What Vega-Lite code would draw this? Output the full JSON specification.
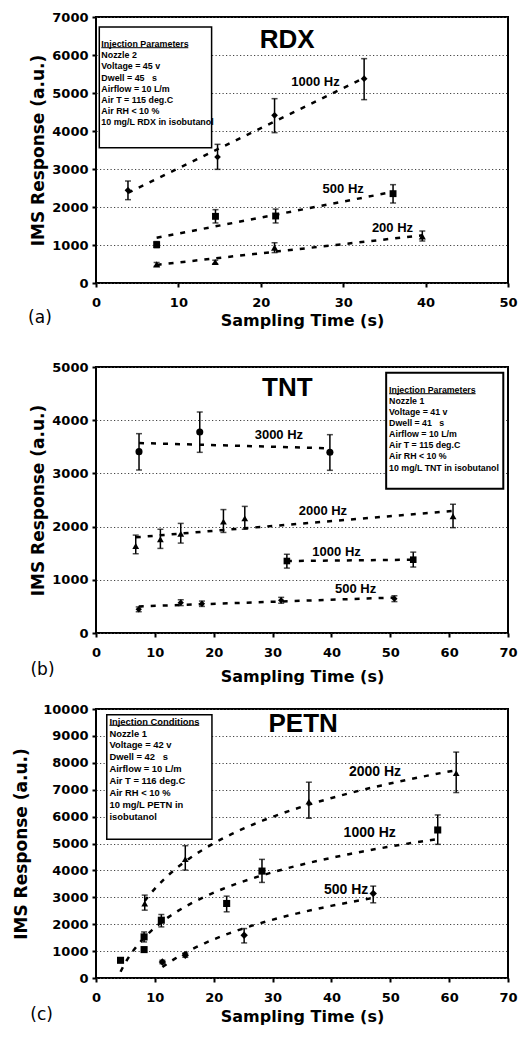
{
  "$schema": "https://vega.github.io/schema/vega-lite/v6.json",
  "padding": {"left": 11, "top": 10, "right": 0, "bottom": 0},
  "spacing": 17,
  "background": "white",
  "datasets": {
    "pts": [
      {"panel":"RDX","series":"1000 Hz","t":3.88,"v":2439,"lo":2193,"hi":2684},
      {"panel":"RDX","series":"1000 Hz","t":14.75,"v":3316,"lo":2991,"hi":3649},
      {"panel":"RDX","series":"1000 Hz","t":21.67,"v":4412,"lo":3956,"hi":4851},
      {"panel":"RDX","series":"1000 Hz","t":32.54,"v":5377,"lo":4825,"hi":5904},
      {"panel":"RDX","series":"500 Hz","t":7.36,"v":1009,"lo":930,"hi":1090},
      {"panel":"RDX","series":"500 Hz","t":14.5,"v":1754,"lo":1580,"hi":1930},
      {"panel":"RDX","series":"500 Hz","t":21.8,"v":1763,"lo":1580,"hi":1945},
      {"panel":"RDX","series":"500 Hz","t":36.05,"v":2351,"lo":2105,"hi":2588},
      {"panel":"RDX","series":"200 Hz","t":7.36,"v":491,"lo":440,"hi":540},
      {"panel":"RDX","series":"200 Hz","t":14.47,"v":553,"lo":510,"hi":600},
      {"panel":"RDX","series":"200 Hz","t":21.67,"v":930,"lo":800,"hi":1060},
      {"panel":"RDX","series":"200 Hz","t":39.6,"v":1228,"lo":1105,"hi":1368},
      {"panel":"TNT","series":"3000 Hz","t":7.31,"v":3409,"lo":3064,"hi":3747},
      {"panel":"TNT","series":"3000 Hz","t":17.63,"v":3778,"lo":3396,"hi":4154},
      {"panel":"TNT","series":"3000 Hz","t":39.74,"v":3396,"lo":3058,"hi":3728},
      {"panel":"TNT","series":"2000 Hz","t":6.75,"v":1635,"lo":1490,"hi":1840},
      {"panel":"TNT","series":"2000 Hz","t":10.94,"v":1761,"lo":1590,"hi":1950},
      {"panel":"TNT","series":"2000 Hz","t":14.4,"v":1867,"lo":1690,"hi":2060},
      {"panel":"TNT","series":"2000 Hz","t":21.65,"v":2093,"lo":1890,"hi":2320},
      {"panel":"TNT","series":"2000 Hz","t":25.28,"v":2155,"lo":1950,"hi":2380},
      {"panel":"TNT","series":"2000 Hz","t":60.66,"v":2193,"lo":1980,"hi":2420},
      {"panel":"TNT","series":"1000 Hz","t":32.43,"v":1353,"lo":1220,"hi":1480},
      {"panel":"TNT","series":"1000 Hz","t":53.9,"v":1378,"lo":1240,"hi":1520},
      {"panel":"TNT","series":"500 Hz","t":7.26,"v":445,"lo":400,"hi":490},
      {"panel":"TNT","series":"500 Hz","t":14.4,"v":570,"lo":515,"hi":625},
      {"panel":"TNT","series":"500 Hz","t":18.0,"v":551,"lo":500,"hi":600},
      {"panel":"TNT","series":"500 Hz","t":31.46,"v":614,"lo":560,"hi":670},
      {"panel":"TNT","series":"500 Hz","t":50.7,"v":645,"lo":590,"hi":700},
      {"panel":"PETN","series":"2000 Hz","t":8.28,"v":2770,"lo":2522,"hi":3081},
      {"panel":"PETN","series":"2000 Hz","t":15.17,"v":4422,"lo":4012,"hi":4919},
      {"panel":"PETN","series":"2000 Hz","t":36.17,"v":6559,"lo":5938,"hi":7279},
      {"panel":"PETN","series":"2000 Hz","t":61.2,"v":7615,"lo":6894,"hi":8398},
      {"panel":"PETN","series":"1000 Hz","t":4.17,"v":658,"lo":590,"hi":730},
      {"panel":"PETN","series":"1000 Hz","t":8.17,"v":1056,"lo":990,"hi":1120},
      {"panel":"PETN","series":"1000 Hz","t":8.17,"v":1528,"lo":1340,"hi":1712},
      {"panel":"PETN","series":"1000 Hz","t":11.1,"v":2149,"lo":1900,"hi":2360},
      {"panel":"PETN","series":"1000 Hz","t":22.2,"v":2770,"lo":2460,"hi":3043},
      {"panel":"PETN","series":"1000 Hz","t":28.2,"v":3975,"lo":3553,"hi":4410},
      {"panel":"PETN","series":"1000 Hz","t":58.06,"v":5503,"lo":4969,"hi":6062},
      {"panel":"PETN","series":"500 Hz","t":11.28,"v":596,"lo":530,"hi":660},
      {"panel":"PETN","series":"500 Hz","t":15.17,"v":845,"lo":770,"hi":920},
      {"panel":"PETN","series":"500 Hz","t":25.17,"v":1590,"lo":1304,"hi":1838},
      {"panel":"PETN","series":"500 Hz","t":47.1,"v":3143,"lo":2795,"hi":3416}
    ],
    "labels": [
      {"panel":"RDX","kind":"name","t":23.2,"v":6404,"text":"RDX"},
      {"panel":"RDX","kind":"freq","t":26.64,"v":5289,"text":"1000 Hz"},
      {"panel":"RDX","kind":"freq","t":30.0,"v":2482,"text":"500 Hz"},
      {"panel":"RDX","kind":"freq","t":35.98,"v":1447,"text":"200 Hz"},
      {"panel":"RDX","kind":"tag","t":-6.8,"v":-921,"text":"(a)"},
      {"panel":"TNT","kind":"name","t":32.5,"v":4599,"text":"TNT"},
      {"panel":"TNT","kind":"freq","t":31.07,"v":3716,"text":"3000 Hz"},
      {"panel":"TNT","kind":"freq","t":38.55,"v":2287,"text":"2000 Hz"},
      {"panel":"TNT","kind":"freq","t":40.87,"v":1529,"text":"1000 Hz"},
      {"panel":"TNT","kind":"freq","t":44.1,"v":833,"text":"500 Hz"},
      {"panel":"TNT","kind":"tag","t":-9.09,"v":-695,"text":"(b)"},
      {"panel":"PETN","kind":"name","t":35.2,"v":9453,"text":"PETN"},
      {"panel":"PETN","kind":"freq","t":47.4,"v":7652,"text":"2000 Hz"},
      {"panel":"PETN","kind":"freq","t":46.5,"v":5379,"text":"1000 Hz"},
      {"panel":"PETN","kind":"freq","t":42.5,"v":3267,"text":"500 Hz"},
      {"panel":"PETN","kind":"tag","t":-9.25,"v":-1375,"text":"(c)"}
    ],
    "boxes": [
      {"panel":"RDX","t":0.4,"t2":14.03,"v":3561,"v2":6737},
      {"panel":"TNT","t":49.3,"t2":69.2,"v":2713,"v2":4893},
      {"panel":"PETN","t":1.83,"t2":19.7,"v":5155,"v2":9789}
    ],
    "heads": [
      {"panel":"RDX","t":0.65,"t2":11.2,"v":6192},
      {"panel":"TNT","t":49.8,"t2":64.5,"v":4498},
      {"panel":"PETN","t":2.28,"t2":17.54,"v":9394}
    ],
    "infos": [
      {"panel":"RDX","t":0.65,"v":6389,"text":"Injection Parameters\nNozzle 2\nVoltage = 45 v\nDwell = 45\u00a0\u00a0\u00a0s\nAirflow = 10 L/m\nAir T = 115 deg.C\nAir RH < 10 %\n10 mg/L RDX in isobutanol"},
      {"panel":"TNT","t":49.8,"v":4645,"text":"Injection Parameters\nNozzle 1\nVoltage = 41 v\nDwell = 41\u00a0\u00a0\u00a0s\nAirflow = 10 L/m\nAir T = 115 deg.C\nAir RH < 10 %\n10 mg/L TNT in isobutanol"},
      {"panel":"PETN","t":2.28,"v":9677,"text":"Injection Conditions\nNozzle 1\nVoltage = 42 v\nDwell = 42\u00a0\u00a0\u00a0s\nAirflow = 10 L/m\nAir T = 116 deg.C\nAir RH < 10 %\n10 mg/L PETN in\nisobutanol"}
    ]
  },
  "resolve": {"scale": {"x": "independent", "y": "independent", "shape": "independent", "size": "independent"}},
  "vconcat": [
    {
      "width": 412, "height": 266,
      "encoding": {
        "x": {"field": "t", "type": "quantitative", "scale": {"domain": [0, 50], "nice": false}, "axis": {"values": [0,10,20,30,40,50], "format": "d", "grid": false, "title": ["Sampling Time (s)", " "], "titleLineHeight": 14, "titlePadding": 3}},
        "y": {"field": "v", "type": "quantitative", "scale": {"domain": [0, 7000], "nice": false}, "axis": {"values": [0,1000,2000,3000,4000,5000,6000,7000], "format": "d", "grid": true, "gridColor": "#444444", "gridWidth": 1.2, "gridDash": [1.2, 2.3], "title": "IMS Response (a.u.)", "titlePadding": 4}}
      },
      "layer": [
        {"data": {"name": "boxes"}, "transform": [{"filter": "datum.panel === 'RDX'"}], "mark": {"type": "rect", "fill": "white", "stroke": "black", "strokeWidth": 1.5}, "encoding": {"x2": {"field": "t2"}, "y2": {"field": "v2"}}},
        {"data": {"name": "heads"}, "transform": [{"filter": "datum.panel === 'RDX'"}], "mark": {"type": "rule", "stroke": "black", "strokeWidth": 1}, "encoding": {"x2": {"field": "t2"}}},
        {"data": {"name": "infos"}, "transform": [{"filter": "datum.panel === 'RDX'"}], "mark": {"type": "text", "align": "left", "baseline": "top", "lineBreak": "\n", "font": "Liberation Sans", "fontWeight": "bold", "fontSize": 8.9, "lineHeight": 11.1, "color": "black"}, "encoding": {"text": {"field": "text"}}},
        {"data": {"name": "pts"}, "transform": [{"filter": "datum.panel === 'RDX'"}, {"regression": "v", "on": "t", "groupby": ["series"], "method": "linear"}], "mark": {"type": "line", "color": "black", "strokeWidth": 2.5, "strokeDash": [5, 7]}, "encoding": {"detail": {"field": "series"}}},
        {"data": {"name": "pts"}, "transform": [{"filter": "datum.panel === 'RDX'"}], "mark": {"type": "errorbar", "color": "black", "ticks": {"size": 6, "thickness": 1.5, "color": "black"}, "rule": {"strokeWidth": 1.5}},
         "encoding": {"y": {"field": "lo", "type": "quantitative", "scale": {"domain": [0, 7000], "nice": false}, "axis": {"values": [0,1000,2000,3000,4000,5000,6000,7000], "format": "d", "grid": true, "gridColor": "#444444", "gridWidth": 1.2, "gridDash": [1.2, 2.3], "title": "IMS Response (a.u.)", "titlePadding": 4}}, "y2": {"field": "hi"}}},
        {"data": {"name": "pts"}, "transform": [{"filter": "datum.panel === 'RDX'"}], "mark": {"type": "point", "filled": true, "color": "black", "opacity": 1},
         "encoding": {"shape": {"field": "series", "type": "nominal", "scale": {"domain": ["1000 Hz","500 Hz","200 Hz"], "range": ["diamond","square","triangle-up"]}, "legend": null},
                      "size": {"field": "series", "type": "nominal", "scale": {"domain": ["1000 Hz","500 Hz","200 Hz"], "range": [45, 50, 40]}, "legend": null}}},
        {"data": {"name": "labels"}, "transform": [{"filter": "datum.panel === 'RDX' && datum.kind === 'freq'"}], "mark": {"type": "text", "font": "Liberation Sans", "fontWeight": "bold", "fontSize": 13, "color": "black"}, "encoding": {"text": {"field": "text"}}},
        {"data": {"name": "labels"}, "transform": [{"filter": "datum.panel === 'RDX' && datum.kind === 'name'"}], "mark": {"type": "text", "font": "Liberation Sans", "fontWeight": "bold", "fontSize": 26, "color": "black"}, "encoding": {"text": {"field": "text"}}},
        {"data": {"name": "labels"}, "transform": [{"filter": "datum.panel === 'RDX' && datum.kind === 'tag'"}], "mark": {"type": "text", "font": "DejaVu Sans", "fontSize": 17, "color": "black"}, "encoding": {"text": {"field": "text"}}}
      ]
    },
    {
      "width": 412, "height": 266,
      "encoding": {
        "x": {"field": "t", "type": "quantitative", "scale": {"domain": [0, 70], "nice": false}, "axis": {"values": [0,10,20,30,40,50,60,70], "format": "d", "grid": false, "title": "Sampling Time (s)", "titlePadding": 9}},
        "y": {"field": "v", "type": "quantitative", "scale": {"domain": [0, 5000], "nice": false}, "axis": {"values": [0,1000,2000,3000,4000,5000], "format": "d", "grid": true, "gridColor": "#444444", "gridWidth": 1.2, "gridDash": [1.2, 2.3], "title": "IMS Response (a.u.)", "titlePadding": 4}}
      },
      "layer": [
        {"data": {"name": "boxes"}, "transform": [{"filter": "datum.panel === 'TNT'"}], "mark": {"type": "rect", "fill": "white", "stroke": "black", "strokeWidth": 2}, "encoding": {"x2": {"field": "t2"}, "y2": {"field": "v2"}}},
        {"data": {"name": "heads"}, "transform": [{"filter": "datum.panel === 'TNT'"}], "mark": {"type": "rule", "stroke": "black", "strokeWidth": 1}, "encoding": {"x2": {"field": "t2"}}},
        {"data": {"name": "infos"}, "transform": [{"filter": "datum.panel === 'TNT'"}], "mark": {"type": "text", "align": "left", "baseline": "top", "lineBreak": "\n", "font": "Liberation Sans", "fontWeight": "bold", "fontSize": 8.8, "lineHeight": 11.1, "color": "black"}, "encoding": {"text": {"field": "text"}}},
        {"data": {"name": "pts"}, "transform": [{"filter": "datum.panel === 'TNT'"}, {"regression": "v", "on": "t", "groupby": ["series"], "method": "linear"}], "mark": {"type": "line", "color": "black", "strokeWidth": 2.5, "strokeDash": [5, 7]}, "encoding": {"detail": {"field": "series"}}},
        {"data": {"name": "pts"}, "transform": [{"filter": "datum.panel === 'TNT'"}], "mark": {"type": "errorbar", "color": "black", "ticks": {"size": 6, "thickness": 1.5, "color": "black"}, "rule": {"strokeWidth": 1.5}},
         "encoding": {"y": {"field": "lo", "type": "quantitative", "scale": {"domain": [0, 5000], "nice": false}, "axis": {"values": [0,1000,2000,3000,4000,5000], "format": "d", "grid": true, "gridColor": "#444444", "gridWidth": 1.2, "gridDash": [1.2, 2.3], "title": "IMS Response (a.u.)", "titlePadding": 4}}, "y2": {"field": "hi"}}},
        {"data": {"name": "pts"}, "transform": [{"filter": "datum.panel === 'TNT'"}], "mark": {"type": "point", "filled": true, "color": "black", "opacity": 1},
         "encoding": {"shape": {"field": "series", "type": "nominal", "scale": {"domain": ["3000 Hz","2000 Hz","1000 Hz","500 Hz"], "range": ["circle","triangle-up","square","diamond"]}, "legend": null},
                      "size": {"field": "series", "type": "nominal", "scale": {"domain": ["3000 Hz","2000 Hz","1000 Hz","500 Hz"], "range": [50, 40, 50, 30]}, "legend": null}}},
        {"data": {"name": "labels"}, "transform": [{"filter": "datum.panel === 'TNT' && datum.kind === 'freq'"}], "mark": {"type": "text", "font": "Liberation Sans", "fontWeight": "bold", "fontSize": 13, "color": "black"}, "encoding": {"text": {"field": "text"}}},
        {"data": {"name": "labels"}, "transform": [{"filter": "datum.panel === 'TNT' && datum.kind === 'name'"}], "mark": {"type": "text", "font": "Liberation Sans", "fontWeight": "bold", "fontSize": 26, "color": "black"}, "encoding": {"text": {"field": "text"}}},
        {"data": {"name": "labels"}, "transform": [{"filter": "datum.panel === 'TNT' && datum.kind === 'tag'"}], "mark": {"type": "text", "font": "DejaVu Sans", "fontSize": 17, "color": "black"}, "encoding": {"text": {"field": "text"}}}
      ]
    },
    {
      "width": 412, "height": 269,
      "encoding": {
        "x": {"field": "t", "type": "quantitative", "scale": {"domain": [0, 70], "nice": false}, "axis": {"values": [0,10,20,30,40,50,60,70], "format": "d", "grid": false, "title": "Sampling Time (s)", "titlePadding": 4}},
        "y": {"field": "v", "type": "quantitative", "scale": {"domain": [0, 10000], "nice": false}, "axis": {"values": [0,1000,2000,3000,4000,5000,6000,7000,8000,9000,10000], "format": "d", "grid": true, "gridColor": "#444444", "gridWidth": 1.2, "gridDash": [1.2, 2.3], "title": "IMS Response (a.u.)", "titlePadding": 12}}
      },
      "layer": [
        {"data": {"name": "boxes"}, "transform": [{"filter": "datum.panel === 'PETN'"}], "mark": {"type": "rect", "fill": "white", "stroke": "black", "strokeWidth": 1.5}, "encoding": {"x2": {"field": "t2"}, "y2": {"field": "v2"}}},
        {"data": {"name": "heads"}, "transform": [{"filter": "datum.panel === 'PETN'"}], "mark": {"type": "rule", "stroke": "black", "strokeWidth": 1}, "encoding": {"x2": {"field": "t2"}}},
        {"data": {"name": "infos"}, "transform": [{"filter": "datum.panel === 'PETN'"}], "mark": {"type": "text", "align": "left", "baseline": "top", "lineBreak": "\n", "font": "Liberation Sans", "fontWeight": "bold", "fontSize": 9.4, "lineHeight": 11.9, "color": "black"}, "encoding": {"text": {"field": "text"}}},
        {"data": {"name": "pts"}, "transform": [{"filter": "datum.panel === 'PETN'"}, {"regression": "v", "on": "t", "groupby": ["series"], "method": "log"}], "mark": {"type": "line", "color": "black", "strokeWidth": 2.5, "strokeDash": [5, 7]}, "encoding": {"detail": {"field": "series"}}},
        {"data": {"name": "pts"}, "transform": [{"filter": "datum.panel === 'PETN'"}], "mark": {"type": "errorbar", "color": "black", "ticks": {"size": 6, "thickness": 1.5, "color": "black"}, "rule": {"strokeWidth": 1.5}},
         "encoding": {"y": {"field": "lo", "type": "quantitative", "scale": {"domain": [0, 10000], "nice": false}, "axis": {"values": [0,1000,2000,3000,4000,5000,6000,7000,8000,9000,10000], "format": "d", "grid": true, "gridColor": "#444444", "gridWidth": 1.2, "gridDash": [1.2, 2.3], "title": "IMS Response (a.u.)", "titlePadding": 12}}, "y2": {"field": "hi"}}},
        {"data": {"name": "pts"}, "transform": [{"filter": "datum.panel === 'PETN'"}], "mark": {"type": "point", "filled": true, "color": "black", "opacity": 1},
         "encoding": {"shape": {"field": "series", "type": "nominal", "scale": {"domain": ["2000 Hz","1000 Hz","500 Hz"], "range": ["triangle-up","square","diamond"]}, "legend": null},
                      "size": {"field": "series", "type": "nominal", "scale": {"domain": ["2000 Hz","1000 Hz","500 Hz"], "range": [45, 55, 35]}, "legend": null}}},
        {"data": {"name": "labels"}, "transform": [{"filter": "datum.panel === 'PETN' && datum.kind === 'freq'"}], "mark": {"type": "text", "font": "Liberation Sans", "fontWeight": "bold", "fontSize": 14, "color": "black"}, "encoding": {"text": {"field": "text"}}},
        {"data": {"name": "labels"}, "transform": [{"filter": "datum.panel === 'PETN' && datum.kind === 'name'"}], "mark": {"type": "text", "font": "Liberation Sans", "fontWeight": "bold", "fontSize": 26, "color": "black"}, "encoding": {"text": {"field": "text"}}},
        {"data": {"name": "labels"}, "transform": [{"filter": "datum.panel === 'PETN' && datum.kind === 'tag'"}], "mark": {"type": "text", "font": "DejaVu Sans", "fontSize": 17, "color": "black"}, "encoding": {"text": {"field": "text"}}}
      ]
    }
  ],
  "config": {
    "view": {"stroke": "black", "strokeWidth": 2},
    "axis": {"domain": false, "tickColor": "black", "tickWidth": 2, "tickSize": 4, "labelFont": "DejaVu Sans", "labelFontWeight": "bold", "labelFontSize": 13, "labelColor": "black", "titleFont": "DejaVu Sans", "titleFontWeight": "bold", "titleColor": "black", "labelPadding": 4, "labelFlush": false, "labelOverlap": false},
    "axisX": {"titleFontSize": 16, "labelPadding": 9},
    "axisY": {"gridOpacity": 1, "titleFontSize": 17}
  }
}
